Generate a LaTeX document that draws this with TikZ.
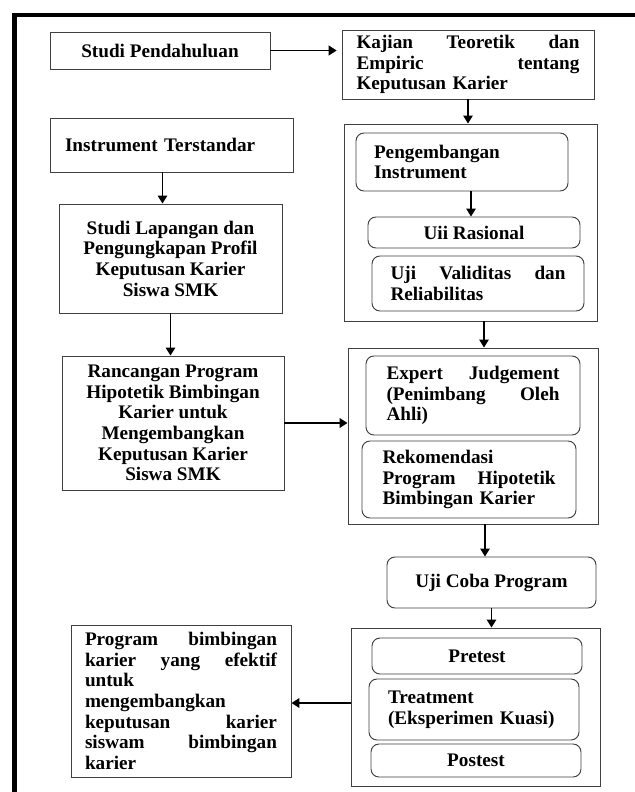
\documentclass[tikz,border=0pt]{standalone}
\usepackage{fontspec}
\setmainfont{Liberation Serif}
\usetikzlibrary{arrows.meta,calc}
\begin{document}
\begin{tikzpicture}[x=0.625pt,y=-0.625pt,
  box/.style={draw=black!75, line width=0.6pt, inner sep=0pt, font=\fontsize{12}{12.9}\selectfont\bfseries},
  rbox/.style={box, rounded corners=5pt},
  grp/.style={draw=black!75, line width=0.6pt, inner sep=0pt},
  arr/.style={-{Triangle[length=5pt,width=6pt]}, line width=0.7pt},
  harr/.style={arr, line width=1.2pt}]
\def\u{0.625pt}
\useasboundingbox (0,0) rectangle (635,792);
\fill[white] (0,0) rectangle (635,792);
\draw[line width=2.6pt] (14.5,800) -- (14.5,15) -- (645,15);

% left column
\node[box, minimum width=220*\u, minimum height=37*\u] (A) at (160,50.5) {Studi Pendahuluan};
\node[box, minimum width=243*\u, minimum height=54*\u, text width=213*\u, align=left] (C) at (171.5,145) {Instrument Terstandar};
\node[box, minimum width=223*\u, minimum height=109*\u, align=center] (D) at (170.5,258.5) {Studi Lapangan dan\\ Pengungkapan Profil\\ Keputusan Karier\\ Siswa SMK};
\node[box, minimum width=222*\u, minimum height=134*\u, align=center] (E) at (173,423) {Rancangan Program\\ Hipotetik Bimbingan\\ Karier untuk\\ Mengembangkan\\ Keputusan Karier\\ Siswa SMK};
\node[box, minimum width=220*\u, minimum height=152*\u, text width=192*\u, align=left] (F) at (181,701) {Program\hfill bimbingan\\ karier\hfill yang\hfill efektif\\ untuk\\ mengembangkan\\ keputusan\hfill karier\\ siswam\hfill bimbingan\\ karier};

% right column
\node[box, minimum width=252*\u, minimum height=69*\u, text width=223*\u, align=left] (B) at (468,64.5) {Kajian\hfill Teoretik\hfill dan\\ Empiric\hfill tentang\\ Keputusan Karier};

\node[grp, minimum width=253*\u, minimum height=197*\u] (G1) at (470.5,222.5) {};
\node[rbox, minimum width=212*\u, minimum height=58*\u, text width=176*\u, align=left] (P) at (462,162) {Pengembangan\\ Instrument};
\node[rbox, minimum width=212*\u, minimum height=31*\u] (R) at (474,232.5) {Uii Rasional};
\node[rbox, minimum width=212*\u, minimum height=55*\u, text width=175*\u, align=left] (V) at (478,283.5) {Uji\hfill Validitas\hfill dan\\ Reliabilitas};

\node[grp, minimum width=250*\u, minimum height=176*\u] (G2) at (473,436) {};
\node[rbox, minimum width=214*\u, minimum height=79*\u, text width=173*\u, align=left] (X) at (473,395.5) {Expert\hfill Judgement\\ (Penimbang\hfill Oleh\\ Ahli)};
\node[rbox, minimum width=214*\u, minimum height=77*\u, text width=173*\u, align=left] (K) at (469,479.5) {Rekomendasi\\ Program\hfill Hipotetik\\ Bimbingan Karier};

\node[rbox, minimum width=209*\u, minimum height=51*\u] (U) at (491.5,582.5) {Uji Coba Program};

\node[grp, minimum width=249*\u, minimum height=158*\u] (G3) at (475.5,707) {};
\node[rbox, minimum width=210*\u, minimum height=36*\u] (Pre) at (477,656) {Pretest};
\node[rbox, minimum width=210*\u, minimum height=61*\u, text width=172*\u, align=left] (T) at (474,709.5) {Treatment\\ (Eksperimen Kuasi)};
\node[rbox, minimum width=210*\u, minimum height=33*\u] (Post) at (476,760.5) {Postest};

% connectors
\draw[harr] (A.east) -- ([xshift=-3pt]A.east -| B.west);
\draw[arr] (B.south) -- (B.south |- G1.north);
\coordinate (c1) at ([xshift=-9*\u]C.south);
\draw[arr] (c1) -- (c1 |- D.north);
\draw[arr] (D.south) -- (D.south |- E.north);
\coordinate (p1) at ([xshift=9*\u]P.south);
\draw[arr] (p1) -- (p1 |- R.north);
\coordinate (g1) at ([xshift=13.5*\u]G1.south);
\draw[arr] (g1) -- (g1 |- G2.north);
\draw[harr] (E.east) -- (E.east -| G2.west);
\coordinate (g2) at ([xshift=12*\u]G2.south);
\draw[arr] (g2) -- (g2 |- U.north);
\draw[arr] (U.south) -- (U.south |- G3.north);
\coordinate (g3) at ([yshift=4*\u]G3.west);
\draw[harr] (g3) -- (g3 -| F.east);
\end{tikzpicture}
\end{document}
